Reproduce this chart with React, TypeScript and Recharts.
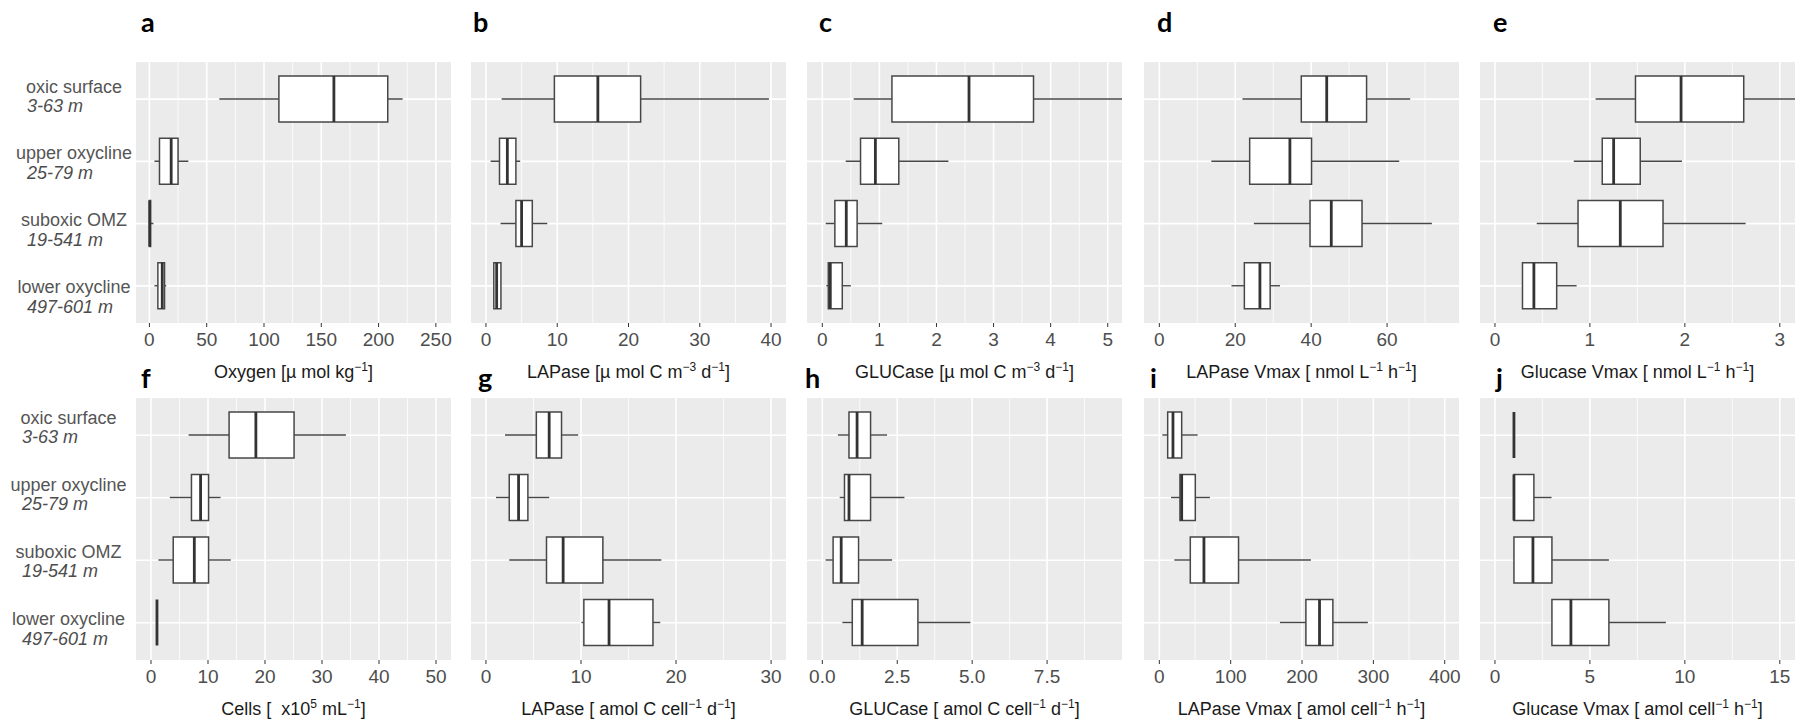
import React from "react";
import { ComposedChart, Bar, XAxis, YAxis, CartesianGrid } from "recharts";

// ---------- data ----------
const groups = ["oxic surface", "upper oxycline", "suboxic OMZ", "lower oxycline"];
const depths = ["3-63 m", "25-79 m", "19-541 m", "497-601 m"];

// each row: [min, q1, median, q3, max]
const oxygen = [[61, 113, 161, 208, 221], [4.4, 8.8, 19, 25, 34], [0, 0, 0.3, 1, 3.5], [4.4, 7.4, 11.2, 13.2, 14.7]];
const lapRate = [[2.2, 9.6, 15.7, 21.7, 39.7], [0.65, 1.9, 3.0, 4.2, 4.8], [2.05, 4.2, 5.0, 6.5, 8.6], [1.1, 1.1, 1.5, 2.1, 2.1]];
const gluRate = [[0.55, 1.22, 2.57, 3.7, 5.25], [0.41, 0.67, 0.93, 1.34, 2.21], [0.06, 0.22, 0.42, 0.61, 1.05], [0.07, 0.105, 0.14, 0.35, 0.5]];
const lapVmax = [[21.9, 37.4, 44.1, 54.6, 66.1], [13.7, 23.8, 34.4, 40.1, 63.2], [24.9, 39.7, 45.3, 53.4, 71.8], [19.0, 22.4, 26.5, 29.2, 31.8]];
const gluVmax = [[1.06, 1.48, 1.96, 2.62, 3.16], [0.83, 1.13, 1.25, 1.53, 1.97], [0.44, 0.875, 1.32, 1.77, 2.64], [0.29, 0.29, 0.41, 0.65, 0.86]];
const cells = [[6.6, 13.7, 18.4, 25.1, 34.2], [3.3, 7.1, 8.7, 10.1, 12.2], [1.3, 3.9, 7.6, 10.1, 14.0], [1.05, 1.05, 1.05, 1.05, 1.05]];
const lapCell = [[2.0, 5.3, 6.65, 7.95, 9.7], [1.05, 2.45, 3.43, 4.41, 6.65], [2.45, 6.37, 8.12, 12.3, 18.45], [10.05, 10.3, 12.95, 17.57, 18.34]];
const gluCell = [[0.52, 0.89, 1.16, 1.61, 2.16], [0.58, 0.74, 0.89, 1.61, 2.74], [0.11, 0.36, 0.63, 1.21, 2.33], [0.67, 1.0, 1.33, 3.19, 4.94]];
const lapVmaxCell = [[4.2, 11.7, 19.1, 31.3, 53.7], [16.3, 28.9, 31.3, 50.4, 70.9], [21, 43.4, 62.5, 111, 212.4], [169, 205.4, 224.5, 243.2, 292.2]];
const gluVmaxCell = [[1, 1, 1, 1, 1], [1, 1, 1, 2.05, 2.98], [1, 1, 2, 3, 6], [3, 3, 4, 6, 9]];

// tick labels (major) and minor grid breaks
const ticksA = [0, 50, 100, 150, 200, 250];
const minorA = [25, 75, 125, 175, 225];
const ticksB = [0, 10, 20, 30, 40];
const minorB = [5, 15, 25, 35];
const ticksC = [0, 1, 2, 3, 4, 5];
const minorC = [0.5, 1.5, 2.5, 3.5, 4.5];
const ticksD = [0, 20, 40, 60];
const minorD = [10, 30, 50, 70];
const ticksE = [0, 1, 2, 3];
const minorE = [0.5, 1.5, 2.5];
const ticksF = [0, 10, 20, 30, 40, 50];
const minorF = [5, 15, 25, 35, 45];
const ticksG = [0, 10, 20, 30];
const minorG = [5, 15, 25];
const ticksH = [0, 2.5, 5, 7.5];
const minorH = [1.25, 3.75, 6.25, 8.75];
const ticksI = [0, 100, 200, 300, 400];
const minorI = [50, 150, 250, 350];
const ticksJ = [0, 5, 10, 15];
const minorJ = [2.5, 7.5, 12.5];

type Part = { t: string; sup?: boolean };
const M = "\u2212";

const panels = [
  { letter: "a", stats: oxygen, domain: [-11.7, 263.2], ticks: ticksA, minor: minorA, row: 0, col: 0, title: [{ t: "Oxygen [\u00b5 mol kg" }, { t: M + "1", sup: true }, { t: "]" }] as Part[] },
  { letter: "b", stats: lapRate, domain: [-2.1, 42.1], ticks: ticksB, minor: minorB, row: 0, col: 1, title: [{ t: "LAPase [\u00b5 mol C m" }, { t: M + "3", sup: true }, { t: " d" }, { t: M + "1", sup: true }, { t: "]" }] as Part[] },
  { letter: "c", stats: gluRate, domain: [-0.268, 5.25], ticks: ticksC, minor: minorC, row: 0, col: 2, title: [{ t: "GLUCase [\u00b5 mol C m" }, { t: M + "3", sup: true }, { t: " d" }, { t: M + "1", sup: true }, { t: "]" }] as Part[] },
  { letter: "d", stats: lapVmax, domain: [-4.04, 78.95], ticks: ticksD, minor: minorD, row: 0, col: 3, title: [{ t: "LAPase Vmax [ nmol L" }, { t: M + "1", sup: true }, { t: " h" }, { t: M + "1", sup: true }, { t: "]" }] as Part[] },
  { letter: "e", stats: gluVmax, domain: [-0.1575, 3.16], ticks: ticksE, minor: minorE, row: 0, col: 4, title: [{ t: "Glucase Vmax [ nmol L" }, { t: M + "1", sup: true }, { t: " h" }, { t: M + "1", sup: true }, { t: "]" }] as Part[] },
  { letter: "f", stats: cells, domain: [-2.63, 52.63], ticks: ticksF, minor: minorF, row: 1, col: 0, title: [{ t: "Cells [  x10" }, { t: "5", sup: true }, { t: " mL" }, { t: M + "1", sup: true }, { t: "]" }] as Part[] },
  { letter: "g", stats: lapCell, domain: [-1.575, 31.57], ticks: ticksG, minor: minorG, row: 1, col: 1, title: [{ t: "LAPase [ amol C cell" }, { t: M + "1", sup: true }, { t: " d" }, { t: M + "1", sup: true }, { t: "]" }] as Part[] },
  { letter: "h", stats: gluCell, domain: [-0.511, 10.0], ticks: ticksH, minor: minorH, row: 1, col: 2, title: [{ t: "GLUCase [ amol C cell" }, { t: M + "1", sup: true }, { t: " d" }, { t: M + "1", sup: true }, { t: "]" }] as Part[] },
  { letter: "i", stats: lapVmaxCell, domain: [-21.5, 420], ticks: ticksI, minor: minorI, row: 1, col: 3, title: [{ t: "LAPase Vmax [ amol cell" }, { t: M + "1", sup: true }, { t: " h" }, { t: M + "1", sup: true }, { t: "]" }] as Part[] },
  { letter: "j", stats: gluVmaxCell, domain: [-0.7875, 15.8], ticks: ticksJ, minor: minorJ, row: 1, col: 4, title: [{ t: "Glucase Vmax [ amol cell" }, { t: M + "1", sup: true }, { t: " h" }, { t: M + "1", sup: true }, { t: "]" }] as Part[] },
];

// ---------- layout (styling) ----------
const FONT = "'Liberation Sans', Arial, sans-serif";
const PLOT_LEFT = [136, 471, 807, 1144, 1480];
const PLOT_W = 315;
const RIGHT_PAD = 16;
const PLOT_TOP = [62, 398];
const PLOT_H = [261, 262];
const AXIS_H = 62;
const Y_AXIS_W = 136;
const LETTER_POS: Record<string, [number, number]> = {
  a: [141, 32], b: [473, 32], c: [819, 32], d: [1157, 32], e: [1493, 32],
  f: [141, 388], g: [478, 388], h: [805, 388], i: [1150, 388], j: [1496, 388],
};

const BoxShape = (props: any) => {
  const { x, y, width, height, payload } = props;
  if (!payload || x == null || y == null) return null;
  const { min, q1, med, q3, max } = payload;
  const span = max - min;
  const k = span > 0 ? width / span : 0;
  const px = (v: number) => x + (v - min) * k;
  const cy = y + height / 2;
  const stroke = "#474747";
  return (
    <g>
      <line x1={px(min)} x2={px(q1)} y1={cy} y2={cy} stroke={stroke} strokeWidth={1.4} />
      <line x1={px(q3)} x2={px(max)} y1={cy} y2={cy} stroke={stroke} strokeWidth={1.4} />
      <rect x={px(q1)} y={y} width={Math.max(0, px(q3) - px(q1))} height={height} fill="#ffffff" stroke={stroke} strokeWidth={1.5} />
      <line x1={px(med)} x2={px(med)} y1={y} y2={y + height} stroke="#333333" strokeWidth={2.8} />
    </g>
  );
};

const YTick = (props: any) => {
  const { y, payload, row } = props;
  const i = groups.indexOf(payload.value);
  const first = (row === 0 ? -12.5 : -17.5) + i * 4.6;
  const cx = row === 0 ? 74 : 68.5;
  const lx = row === 0 ? 27 : 22;
  return (
    <g>
      <text x={cx} y={y + first} textAnchor="middle" dominantBaseline="central" fontSize={18} fontFamily={FONT} fill="#555555">
        {payload.value}
      </text>
      <text x={lx} y={y + first + 19.5} textAnchor="start" dominantBaseline="central" fontSize={18} fontStyle="italic" fontFamily={FONT} fill="#4d4d4d">
        {depths[i]}
      </text>
    </g>
  );
};

const AxisTitle = (props: any) => {
  const vb = props.viewBox || { x: 0, y: 0, width: 0 };
  const parts: Part[] = props.parts;
  return (
    <text x={vb.x + vb.width / 2} y={vb.y + 55} textAnchor="middle" fontSize={18} fontFamily={FONT} fill="#1a1a1a">
      {parts.map((p, i) => {
        const prevSup = i > 0 && parts[i - 1].sup;
        if (p.sup) return <tspan key={i} dy={-7} fontSize={12}>{p.t}</tspan>;
        return <tspan key={i} dy={prevSup ? 7 : 0} xmlSpace="preserve">{p.t}</tspan>;
      })}
    </text>
  );
};

function Panel({ cfg }: { cfg: (typeof panels)[number] }) {
  const showY = cfg.col === 0;
  const rows = groups.map((g, i) => ({
    name: g,
    min: cfg.stats[i][0],
    q1: cfg.stats[i][1],
    med: cfg.stats[i][2],
    q3: cfg.stats[i][3],
    max: cfg.stats[i][4],
  }));
  const plotLeft = PLOT_LEFT[cfg.col];
  const left = showY ? plotLeft - Y_AXIS_W : plotLeft;
  const w = (showY ? Y_AXIS_W + PLOT_W : PLOT_W) + RIGHT_PAD;
  const plotH = PLOT_H[cfg.row];
  const [lo, hi] = cfg.domain;
  const pad = 6;

  const toPx = (xAxis: any, offset: any, v: number) =>
    xAxis && typeof xAxis.scale === "function"
      ? xAxis.scale(v)
      : offset.left + ((v - lo) / (hi - lo)) * offset.width;
  const minorGen = ({ xAxis, offset }: any) => cfg.minor.map((v: number) => toPx(xAxis, offset, v));
  const majorGen = ({ xAxis, offset }: any) => cfg.ticks.map((v: number) => toPx(xAxis, offset, v));
  const horizGen = ({ yAxis, offset }: any) =>
    groups.map((g, i) => {
      if (yAxis && typeof yAxis.scale === "function" && typeof yAxis.scale.bandwidth === "function") {
        return yAxis.scale(g) + yAxis.scale.bandwidth() / 2;
      }
      const band = (offset.height - 2 * pad) / groups.length;
      return offset.top + pad + band * (i + 0.5);
    });

  return (
    <div style={{ position: "absolute", left, top: PLOT_TOP[cfg.row] }}>
      <ComposedChart
        width={w}
        height={plotH + AXIS_H}
        layout="vertical"
        data={rows}
        margin={{ top: 0, right: RIGHT_PAD, bottom: 0, left: 0 }}
      >
        <CartesianGrid fill="#EBEBEB" stroke="#ffffff" strokeWidth={0.8} vertical={true} horizontal={false} verticalCoordinatesGenerator={minorGen} />
        <CartesianGrid stroke="#ffffff" strokeWidth={1.6} vertical={true} horizontal={true} verticalCoordinatesGenerator={majorGen} horizontalCoordinatesGenerator={horizGen} />
        <XAxis
          type="number"
          domain={[lo, hi]}
          ticks={cfg.ticks}
          interval={0}
          allowDataOverflow
          axisLine={false}
          tickSize={4}
          tickMargin={6}
          tickLine={{ stroke: "#333333", strokeWidth: 1 }}
          tick={{ fill: "#4d4d4d", fontSize: 19, fontFamily: FONT }}
          tickFormatter={(v: number) => (cfg.letter === "h" ? v.toFixed(1) : String(v))}
          height={AXIS_H}
          label={<AxisTitle parts={cfg.title} />}
        />
        <YAxis
          type="category"
          dataKey="name"
          hide={!showY}
          width={showY ? Y_AXIS_W : 0}
          axisLine={false}
          tickLine={false}
          interval={0}
          padding={{ top: pad, bottom: pad }}
          tick={<YTick row={cfg.row} />}
        />
        <Bar
          dataKey={(d: any) => [d.min, d.max]}
          barSize={46}
          shape={<BoxShape />}
          isAnimationActive={false}
        />
      </ComposedChart>
    </div>
  );
}

export default function App() {
  return (
    <div style={{ position: "absolute", left: 0, top: 0, width: 1814, height: 725, background: "#ffffff", fontFamily: FONT }}>
      {panels.map((p) => (
        <Panel key={p.letter} cfg={p} />
      ))}
      <svg width={1814} height={725} style={{ position: "absolute", left: 0, top: 0, pointerEvents: "none" }}>
        {panels.map((p) => (
          <text
            key={p.letter}
            x={LETTER_POS[p.letter][0]}
            y={LETTER_POS[p.letter][1]}
            fontSize={27}
            fontWeight={700}
            fontFamily="Lato, 'Open Sans', sans-serif"
            fill="#000000"
          >
            {p.letter}
          </text>
        ))}
      </svg>
    </div>
  );
}
